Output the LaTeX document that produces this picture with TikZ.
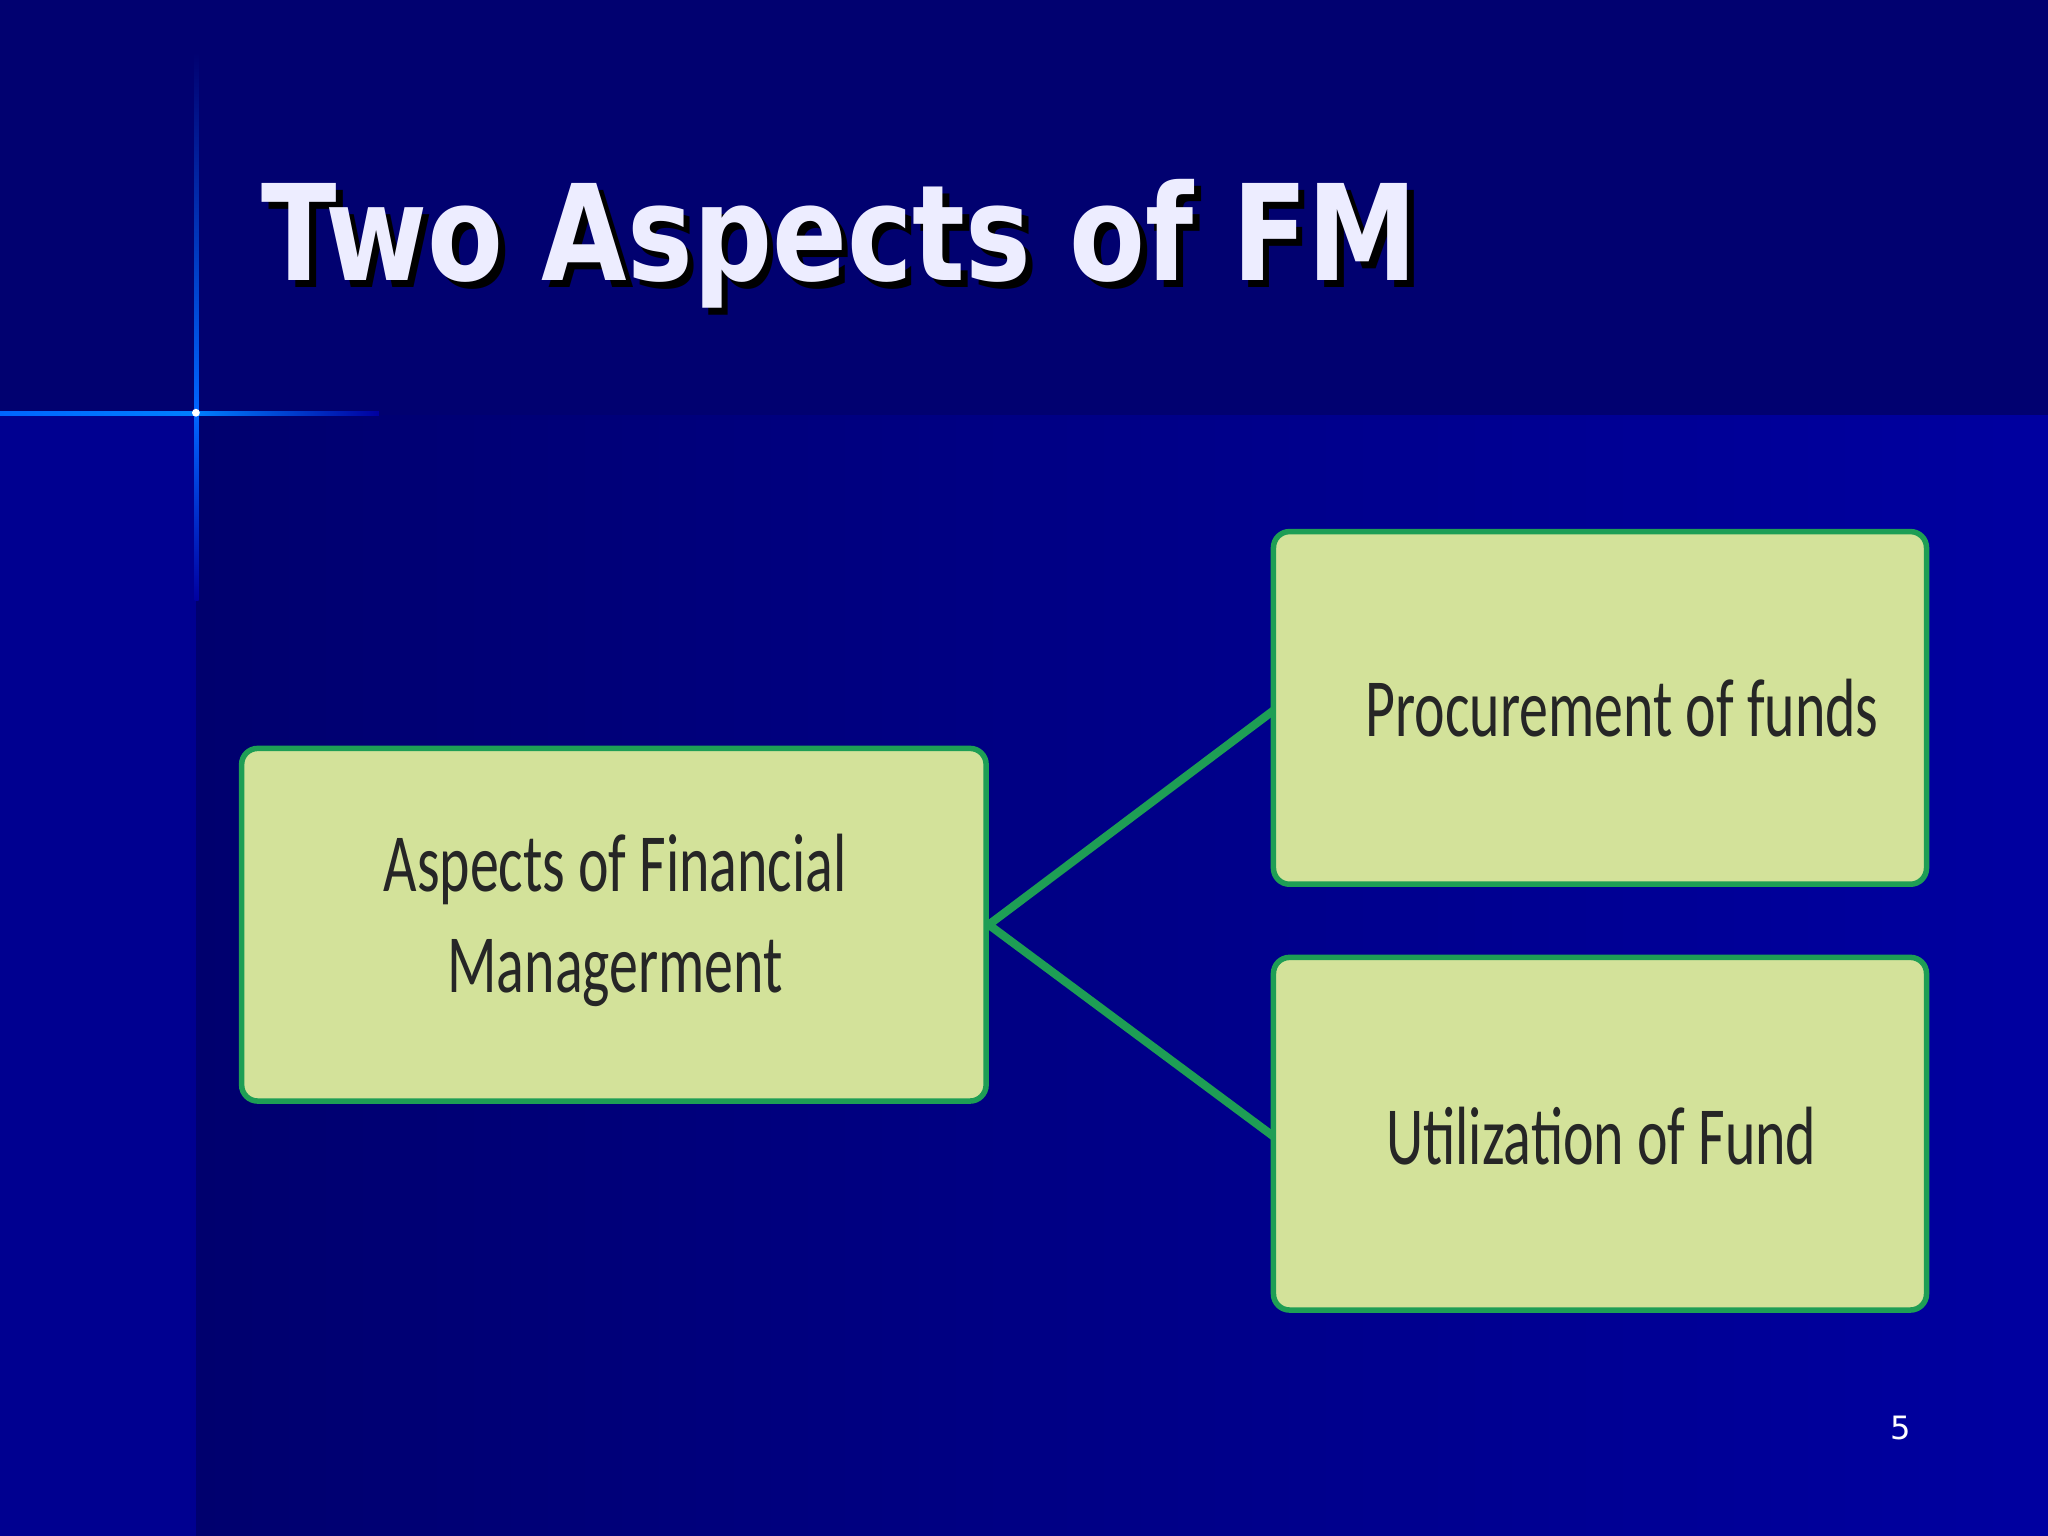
\documentclass[tikz,border=0pt]{standalone}
\usepackage{fontspec}
\setmainfont{DejaVu Sans}
\newfontfamily\carlitofont{Carlito}
\begin{document}
\begin{tikzpicture}[x=0.01cm,y=-0.01cm,
 box/.style={draw=boxgreen,line width=1.2pt,fill=boxfill,rounded corners=3.5pt},
 link/.style={draw=boxgreen,line width=1.8pt},
 btxt/.style={font=\carlitofont\fontsize{18}{22}\selectfont,text=black!85,align=center,xscale=0.7}]
\definecolor{boxgreen}{HTML}{1E9E55}
\definecolor{boxfill}{HTML}{D3E29A}
\definecolor{topband}{HTML}{010170}
\definecolor{lowA}{HTML}{00006E}
\definecolor{lowB}{HTML}{0000A0}
\useasboundingbox (0,0) rectangle (1568,1176);
\fill[topband] (0,0) rectangle (1568,318);
\shade[left color=lowA,right color=lowB] (150,318) rectangle (1568,1176);
\fill[lowB!90!black] (0,318) rectangle (150,1176);
% glow lines
\shade[top color=topband,bottom color=blue!60!cyan] (149,40) rectangle (152,316);
\shade[top color=blue!60!cyan,bottom color=lowB] (149,316) rectangle (152,460);
\shade[left color=blue!60!cyan,right color=blue!50!cyan] (0,315) rectangle (150,318);
\shade[left color=blue!50!cyan,right color=lowB] (150,315) rectangle (290,318);
\fill[white] (150,316) circle (3);
\node[anchor=base west,font=\bfseries\fontsize{29}{34}\selectfont,text=black,inner sep=0,xscale=0.83] at (205,220) {Two Aspects of FM};
\node[anchor=base west,font=\bfseries\fontsize{29}{34}\selectfont,text=white!93!blue,inner sep=0,xscale=0.83] (title) at (200,215) {Two Aspects of FM};
\draw[box] (185,573) rectangle (755,843);
\draw[box] (975,407) rectangle (1475,677);
\draw[box] (975,733) rectangle (1475,1003);
\coordinate (L) at (757,708);
\coordinate (T) at (975,544);
\coordinate (B) at (975,870);
\draw[link] (L) -- (T);
\draw[link] (L) -- (B);
\node[btxt] (a) at (471,705) {Aspects of Financial\\Managerment};
\node[btxt] (p) at (1242,542) {Procurement of funds};
\node[btxt] (u) at (1226,870) {Utilization of Fund};
\node[text=white,font=\fontsize{7}{8}\selectfont] (n) at (1455,1093) {5};
\end{tikzpicture}
\end{document}
